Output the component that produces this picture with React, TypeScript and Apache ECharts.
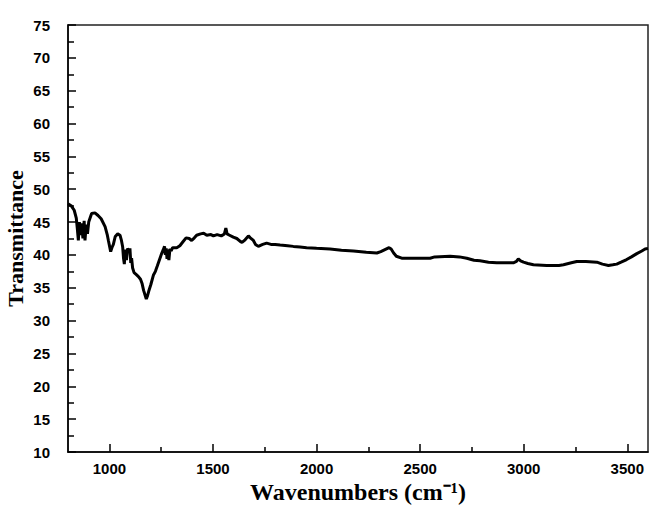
import React, { useEffect, useRef } from "react";
import * as echarts from "echarts";

// FTIR spectrum: wavenumber (cm-1) vs. transmittance
const wavenumbers = [
  800, 815, 830, 840, 845, 850, 855, 860, 866, 872, 878, 882, 888, 894, 900, 914, 930, 945, 960, 979,
  990, 995, 1006, 1013, 1019, 1028, 1040, 1051, 1058, 1064, 1068, 1072, 1076, 1082, 1088, 1094, 1099,
  1103, 1107, 1112, 1119, 1130, 1140, 1150, 1158, 1165, 1172, 1178, 1184, 1190, 1200, 1212, 1222, 1231,
  1242, 1252, 1260, 1266, 1270, 1274, 1278, 1282, 1287, 1292, 1298, 1305, 1325, 1340, 1355, 1370, 1385,
  1397, 1410, 1421, 1440, 1455, 1470, 1490, 1502, 1520, 1540, 1555, 1562, 1568, 1580, 1598, 1615, 1630,
  1640, 1655, 1671, 1680, 1695, 1705, 1719, 1740, 1759, 1780, 1800, 1824, 1860, 1888, 1920, 1952, 2000,
  2065, 2120, 2178, 2240, 2291, 2310, 2330, 2350, 2360, 2372, 2385, 2411, 2480, 2548, 2570, 2645, 2690,
  2725, 2760, 2789, 2830, 2870, 2950, 2965, 2974, 2985, 2999, 3020, 3047, 3111, 3170, 3192, 3230, 3256,
  3300, 3353, 3380, 3409, 3430, 3449, 3470, 3497, 3520, 3546, 3570, 3586, 3600,
];

const transmittance = [
  47.8, 47.5, 46.8, 45.6, 44.0, 42.2, 45.0, 43.0, 44.8, 42.5, 45.2, 42.2, 44.6, 43.2, 45.0, 46.3, 46.4,
  46.0, 45.5, 44.3, 43.0, 42.2, 40.5, 41.2, 41.6, 42.8, 43.2, 43.0, 42.2, 41.2, 39.5, 38.6, 40.8, 39.2,
  41.0, 40.5, 41.0, 38.8, 39.5, 38.0, 37.3, 37.0, 36.7, 36.3, 35.6, 34.6, 33.9, 33.3, 33.8, 34.5, 35.5,
  36.9, 37.5, 38.3, 39.3, 40.2, 40.8, 41.3, 40.0, 41.0, 39.4, 40.8, 39.2, 40.9, 40.6, 41.1, 41.1, 41.4,
  42.0, 42.6, 42.5, 42.2, 42.6, 43.0, 43.2, 43.3, 43.0, 43.1, 42.9, 43.1, 42.9, 43.2, 44.1, 43.2, 43.0,
  42.7, 42.5, 42.1, 41.9, 42.3, 42.9, 42.6, 42.2, 41.6, 41.3, 41.6, 41.8, 41.6, 41.6, 41.5, 41.4, 41.3,
  41.2, 41.1, 41.0, 40.9, 40.7, 40.6, 40.4, 40.3, 40.5, 40.8, 41.1, 40.9, 40.3, 39.8, 39.5, 39.5, 39.5,
  39.7, 39.8, 39.7, 39.5, 39.2, 39.1, 38.9, 38.8, 38.8, 39.0, 39.4, 39.1, 38.9, 38.7, 38.5, 38.4, 38.4,
  38.5, 38.8, 39.0, 39.0, 38.9, 38.6, 38.4, 38.5, 38.6, 38.9, 39.3, 39.7, 40.2, 40.6, 40.9, 41.0,
];

const xMajorTicks = [1000, 1500, 2000, 2500, 3000, 3500];
const xMinorTicks = [1250, 1750, 2250, 2750, 3250];

const X_MIN = 800;
const X_MAX = 3600;
const Y_MIN = 10;
const Y_MAX = 75;

export default function App() {
  const ref = useRef<HTMLDivElement>(null);

  useEffect(() => {
    if (!ref.current) return;
    const chart = echarts.init(ref.current, undefined, { renderer: "svg" });

    const tickFont = {
      fontFamily: "'Liberation Sans', Arial, sans-serif",
      fontSize: 15,
      fontWeight: "bold",
      color: "#000",
      formatter: (v: number) => String(v),
    };

    chart.setOption({
      animation: false,
      backgroundColor: "#fff",
      grid: {
        left: 68,
        right: 1,
        top: 25,
        bottom: 57,
        containLabel: false,
        outerBoundsMode: "none",
        show: true,
        borderColor: "#222",
        borderWidth: 1.5,
        backgroundColor: "transparent",
      },
      xAxis: [
        {
          type: "value",
          min: X_MIN,
          max: X_MAX,
          name: "Wavenumbers (cm\u207B\u00B9)",
          nameLocation: "middle",
          nameGap: 28,
          nameMoveOverlap: false,
          nameTextStyle: {
            fontFamily: "'Liberation Serif', 'Times New Roman', serif",
            fontWeight: "bold",
            fontSize: 24,
            color: "#000",
          },
          axisLine: { show: true, onZero: false, lineStyle: { color: "#000", width: 1.5 } },
          axisTick: {
            show: true,
            inside: true,
            length: 8,
            customValues: xMajorTicks,
            lineStyle: { color: "#000", width: 1.5 },
          },
          axisLabel: { ...tickFont, margin: 9, customValues: xMajorTicks },
          splitLine: { show: false },
        },
        {
          type: "value",
          min: X_MIN,
          max: X_MAX,
          position: "bottom",
          axisLine: { show: false },
          axisTick: {
            show: true,
            inside: true,
            length: 5,
            customValues: xMinorTicks,
            lineStyle: { color: "#000", width: 1.5 },
          },
          axisLabel: { show: false },
          splitLine: { show: false },
        },
      ],
      yAxis: {
        type: "value",
        min: Y_MIN,
        max: Y_MAX,
        interval: 5,
        name: "Transmittance",
        nameLocation: "middle",
        nameGap: 42,
        nameMoveOverlap: false,
        nameTextStyle: {
          fontFamily: "'Liberation Serif', 'Times New Roman', serif",
          fontWeight: "bold",
          fontSize: 22,
          color: "#000",
        },
        axisLine: { show: true, onZero: false, lineStyle: { color: "#000", width: 1.5 } },
        axisTick: { show: true, inside: true, length: 8, lineStyle: { color: "#000", width: 1.5 } },
        minorTick: { show: true, splitNumber: 2, length: 6, lineStyle: { color: "#000", width: 1.5 } },
        axisLabel: { ...tickFont, margin: 18 },
        splitLine: { show: false },
      },
      series: [
        {
          type: "line",
          xAxisIndex: 0,
          showSymbol: false,
          symbol: "none",
          clip: true,
          lineStyle: { color: "#000", width: 3 },
          data: wavenumbers.map((w, i) => [w, transmittance[i]]),
        },
      ],
    });

    return () => chart.dispose();
  }, []);

  return (
    <div
      ref={ref}
      style={{ position: "absolute", left: 0, top: 0, width: 649, height: 509 }}
    />
  );
}
